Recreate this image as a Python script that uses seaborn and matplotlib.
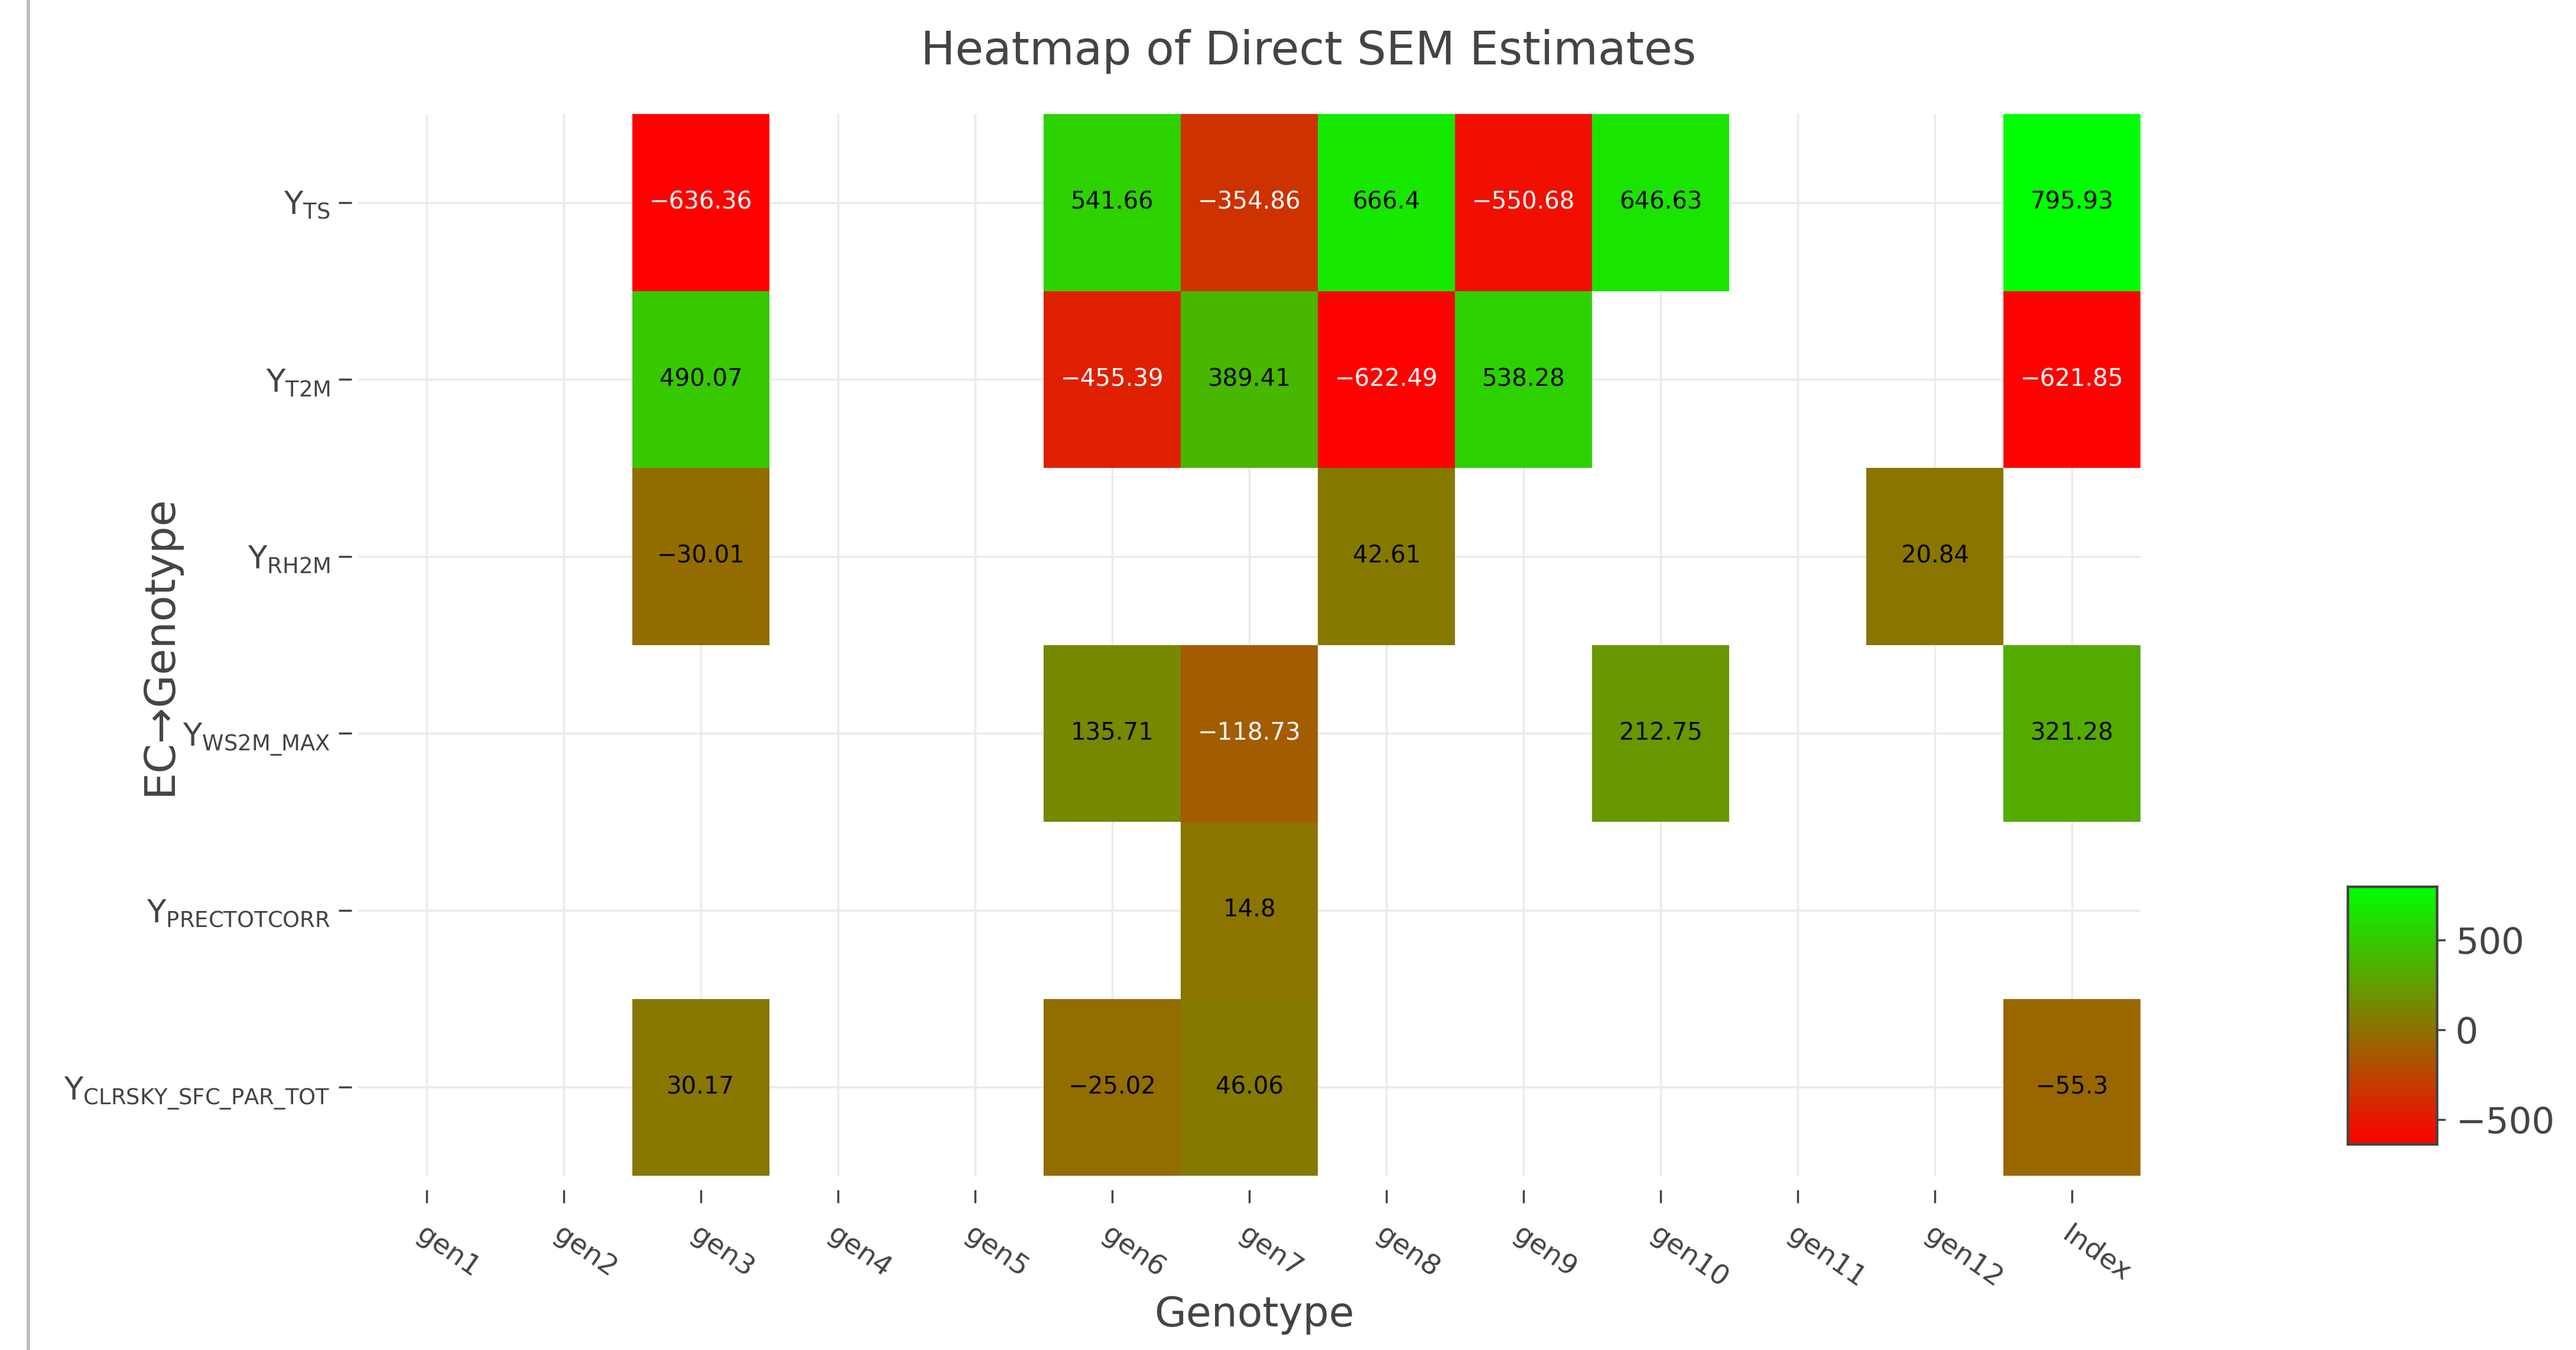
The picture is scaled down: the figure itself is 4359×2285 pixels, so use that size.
import numpy as np
import pandas as pd
import seaborn as sns
import matplotlib.pyplot as plt
from matplotlib.colors import LinearSegmentedColormap
from matplotlib.lines import Line2D

# data (NaN = empty cell)
genotypes = ["gen1", "gen2", "gen3", "gen4", "gen5", "gen6", "gen7",
             "gen8", "gen9", "gen10", "gen11", "gen12", "Index"]
ecs = ["TS", "T2M", "RH2M", "WS2M_MAX", "PRECTOTCORR", "CLRSKY_SFC_PAR_TOT"]
n = np.nan
ts_row = [n, n, -636.36, n, n, 541.66, -354.86, 666.4, -550.68, 646.63, n, n, 795.93]
t2m_row = [n, n, 490.07, n, n, -455.39, 389.41, -622.49, 538.28, n, n, n, -621.85]
rh2m_row = [n, n, -30.01, n, n, n, n, 42.61, n, n, n, 20.84, n]
ws2m_row = [n, n, n, n, n, 135.71, -118.73, n, n, 212.75, n, n, 321.28]
prec_row = [n, n, n, n, n, n, 14.8, n, n, n, n, n, n]
clrsky_row = [n, n, 30.17, n, n, -25.02, 46.06, n, n, n, n, n, -55.3]

df = pd.DataFrame([ts_row, t2m_row, rh2m_row, ws2m_row, prec_row, clrsky_row],
                  index=ecs, columns=genotypes)

sns.set_style("white")
plt.rcParams['font.family'] = ['DejaVu Sans']
txt = "#444444"

cmap = LinearSegmentedColormap.from_list("rg", ["#ff0000", "#00ff00"])
vmin, vmax = np.nanmin(df.values), np.nanmax(df.values)

fig = plt.figure(figsize=(43.59, 22.85), dpi=100)
ax = fig.add_axes([0.139, 0.129, 0.692, 0.7865])
cax = fig.add_axes([0.9115, 0.1523, 0.0347, 0.191])

ax.set_axisbelow(True)
sns.heatmap(df, cmap=cmap, vmin=vmin, vmax=vmax, ax=ax, cbar_ax=cax,
            linewidths=0, cbar_kws={"ticks": [-500, 0, 500]})

# cell labels
for i, ec in enumerate(df.index):
    for j, g in enumerate(df.columns):
        v = df.loc[ec, g]
        if np.isnan(v):
            continue
        s = f"{v:g}".replace("-", "\u2212")
        ax.text(j + 0.5, i + 0.5, s, ha="center", va="center", fontsize=29,
                color="white" if v < -100 else "black")

ax.grid(True, color="#ebebeb", linewidth=2.5)
for sp in ax.spines.values():
    sp.set_visible(False)
ax.spines["bottom"].set_position(("outward", 17))
ax.spines["left"].set_position(("outward", 8))

ax.set_xticks(np.arange(len(genotypes)) + 0.5)
ax.set_xticklabels(genotypes, rotation=-35, ha="left", rotation_mode="anchor",
                   fontsize=34, color=txt)
ylabels = ["Y$_{\\mathregular{" + e.replace("_", "\\_") + "}}$" for e in ecs]
ax.set_yticks(np.arange(len(ecs)) + 0.5)
ax.set_yticklabels(ylabels, rotation=0, fontsize=38, color=txt)
ax.tick_params(axis="both", length=16, width=2.5, color=txt, left=True, bottom=True)
ax.tick_params(axis="x", pad=22)
ax.tick_params(axis="y", pad=10)
ax.set_xlabel("")
ax.set_ylabel("")

fig.text(0.487, 0.026, "Genotype", ha="center", va="center", fontsize=50, color=txt)
fig.text(0.062, 0.522, "EC\u2192Genotype", ha="center", va="center", rotation=90,
         fontsize=52, color=txt)
fig.text(0.508, 0.962, "Heatmap of Direct SEM Estimates", ha="center", va="center",
         fontsize=56, color=txt)

# colorbar styling
cax.tick_params(labelsize=44, colors=txt, length=10, width=2.5, pad=12)
for sp in cax.spines.values():
    sp.set_visible(True)
    sp.set_color(txt)
    sp.set_linewidth(3)
cax.set_yticklabels(["\u2212500", "0", "500"])

# thin border line at the left edge of the figure
fig.add_artist(Line2D([0.0109, 0.0109], [0, 1], color="#bbbbbb", linewidth=4,
                      transform=fig.transFigure))

fig.savefig("out.png", dpi=100)
